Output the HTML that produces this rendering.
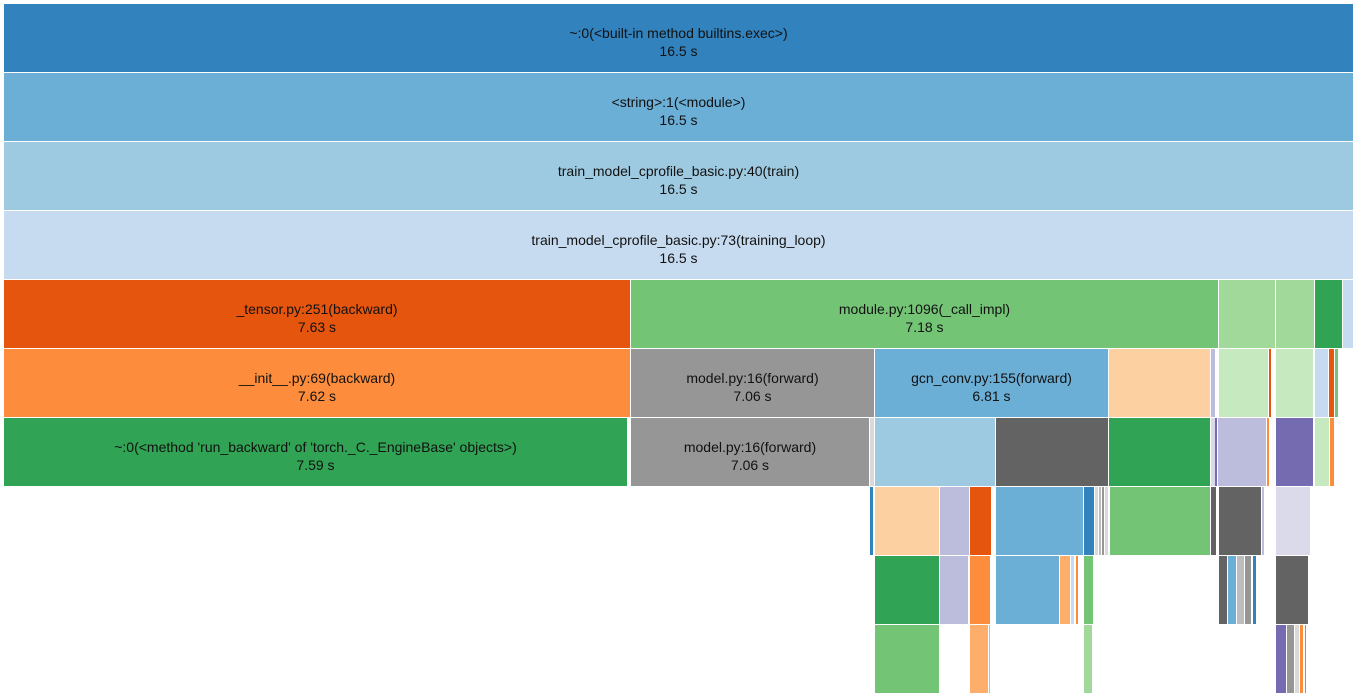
<!DOCTYPE html>
<html><head><meta charset="utf-8"><style>
body{margin:0;width:1357px;height:698px;background:#fff;position:relative;overflow:hidden;font-family:"Liberation Sans",Arial,sans-serif}
.r{position:absolute;height:68px;box-sizing:border-box}
.t{position:absolute;height:68px;display:flex;flex-direction:column;justify-content:center;align-items:center;font-size:14px;line-height:18px;color:#111;text-align:center;white-space:nowrap;padding-top:8px;box-sizing:border-box}
</style></head><body>
<div id="c"></div>
<script>
const R=[4,73,142,211,280,349,418,487,556,625];
const B=[
[0,4,1353,'#3182bd','~:0(&lt;built-in method builtins.exec&gt;)','16.5 s'],
[1,4,1353,'#6baed6','&lt;string&gt;:1(&lt;module&gt;)','16.5 s'],
[2,4,1353,'#9ecae1','train_model_cprofile_basic.py:40(train)','16.5 s'],
[3,4,1353,'#c6dbef','train_model_cprofile_basic.py:73(training_loop)','16.5 s'],
[4,4,630,'#e6550d','_tensor.py:251(backward)','7.63 s'],
[4,631,1218,'#74c476','module.py:1096(_call_impl)','7.18 s'],
[4,1219,1275,'#a1d99b'],[4,1276,1314,'#a1d99b'],[4,1315,1342,'#31a354'],[4,1343,1353,'#c6dbef'],
[5,4,630,'#fd8d3c','__init__.py:69(backward)','7.62 s'],
[5,631,874,'#969696','model.py:16(forward)','7.06 s'],
[5,875,1108,'#6baed6','gcn_conv.py:155(forward)','6.81 s'],
[5,1109,1210,'#fdd0a2'],[5,1211,1215,'#bcbddc'],[5,1219,1268,'#c7e9c0'],[5,1269,1271,'#e6550d'],
[5,1276,1313,'#c7e9c0'],[5,1315,1328,'#c6dbef'],[5,1329,1334,'#e6550d'],[5,1335,1338,'#74c476'],
[6,4,627,'#31a354',"~:0(&lt;method 'run_backward' of 'torch._C._EngineBase' objects&gt;)",'7.59 s'],
[6,631,869,'#969696','model.py:16(forward)','7.06 s'],[6,870,874,'#d9d9d9'],
[6,875,995,'#9ecae1'],[6,996,1108,'#636363'],[6,1109,1210,'#31a354'],[6,1211,1215,'#dadaeb'],[6,1215,1217,'#756bb1'],
[6,1218,1266,'#bcbddc'],[6,1267,1269,'#fd8d3c'],[6,1276,1313,'#756bb1'],[6,1315,1329,'#c7e9c0'],[6,1330,1334,'#fd8d3c'],
[7,870,873,'#3182bd'],[7,875,939,'#fdd0a2'],[7,940,969,'#bcbddc'],[7,970,991,'#e6550d'],[7,996,1083,'#6baed6'],
[7,1084,1094,'#3182bd'],[7,1095,1098,'#d9d9d9'],[7,1099,1101,'#bdbdbd'],[7,1102,1104,'#969696'],[7,1105,1108,'#d9d9d9'],
[7,1110,1210,'#74c476'],[7,1211,1216,'#636363'],[7,1219,1261,'#636363'],[7,1262,1264,'#bcbddc'],[7,1276,1310,'#dadaeb'],
[8,875,939,'#31a354'],[8,940,968,'#bcbddc'],[8,970,990,'#fd8d3c'],[8,996,1059,'#6baed6'],[8,1060,1070,'#fdae6b'],
[8,1071,1074,'#c6dbef'],[8,1076,1078,'#fd8d3c'],[8,1084,1093,'#74c476'],
[8,1219,1227,'#636363'],[8,1228,1236,'#6baed6'],[8,1237,1244,'#bdbdbd'],[8,1245,1251,'#969696'],[8,1253,1256,'#3182bd'],
[8,1276,1308,'#636363'],
[9,875,939,'#74c476'],[9,970,988,'#fdae6b'],[9,989,990,'#fdae6b'],[9,1084,1092,'#a1d99b'],
[9,1276,1286,'#756bb1'],[9,1287,1294,'#969696'],[9,1295,1299,'#d9d9d9'],[9,1300,1303,'#fd8d3c'],[9,1305,1306,'#969696']
];
let h='';
for(const b of B){const[r,x1,x2,c,l1,l2]=b;const w=x2-x1;
h+=`<div class="r" style="left:${x1}px;top:${R[r]}px;width:${w}px;background:${c}"></div>`;
if(l1)h+=`<div class="t" style="left:${x1}px;top:${R[r]}px;width:${w}px"><div>${l1}</div><div>${l2}</div></div>`;}
document.getElementById('c').innerHTML=h;
</script>
</body></html>
